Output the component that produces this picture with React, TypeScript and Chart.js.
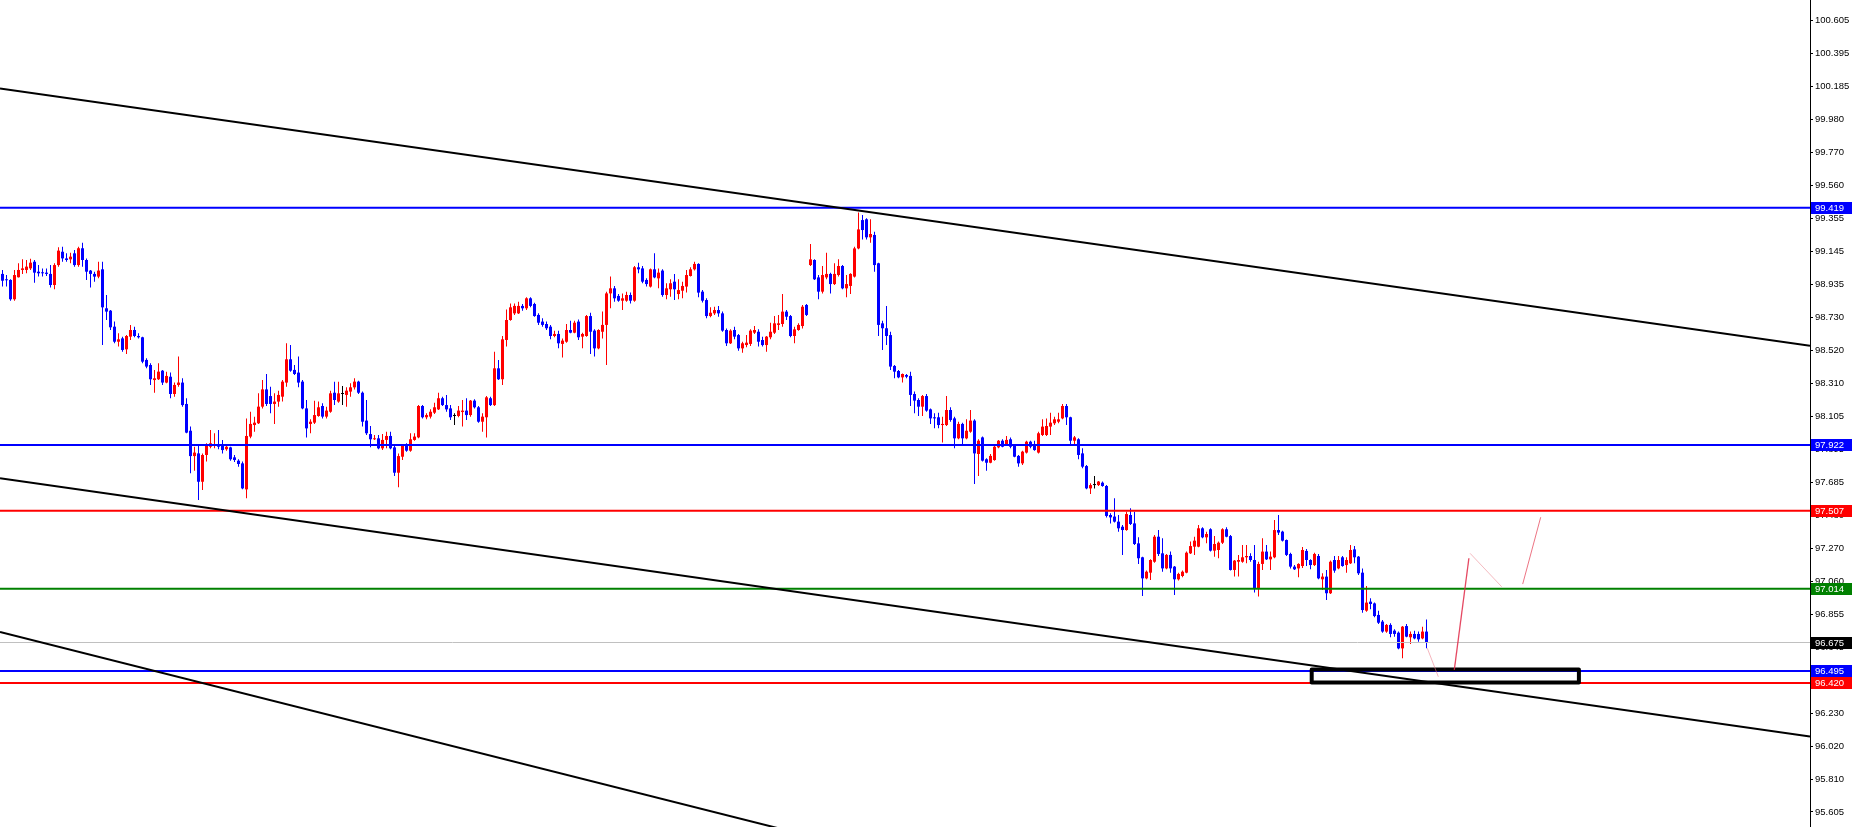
import React, { useEffect, useRef } from 'react';
import { Chart, registerables } from 'chart.js';

Chart.register(...registerables);

// ---- candle data (H1-style OHLC, oldest first) ----
const opens = [
  99.002, 98.968, 98.964, 98.842, 98.981, 99.027, 99.027, 99.037, 99.079, 99.016,
  99.010, 99.010, 99.002, 98.932, 99.058, 99.142, 99.100, 99.094, 99.132, 99.058,
  99.164, 99.090, 99.023, 99.002, 98.985, 99.031, 98.785, 98.770, 98.669, 98.574,
  98.595, 98.526, 98.606, 98.648, 98.610, 98.602, 98.459, 98.427, 98.332, 98.337,
  98.391, 98.316, 98.353, 98.244, 98.301, 98.316, 98.181, 98.012, 97.852, 97.869,
  97.690, 97.859, 97.911, 97.920, 97.928, 97.922, 97.895, 97.907, 97.844, 97.823,
  97.806, 97.642, 97.975, 98.048, 98.059, 98.164, 98.273, 98.231, 98.181, 98.196,
  98.227, 98.316, 98.463, 98.396, 98.379, 98.322, 98.153, 98.055, 98.063, 98.105,
  98.168, 98.101, 98.132, 98.252, 98.196, 98.244, 98.238, 98.259, 98.286, 98.322,
  98.252, 98.076, 97.991, 97.958, 97.964, 97.901, 97.954, 97.979, 97.907, 97.747,
  97.848, 97.922, 97.886, 97.954, 97.970, 98.168, 98.097, 98.101, 98.126, 98.147,
  98.217, 98.174, 98.153, 98.105, 98.105, 98.130, 98.139, 98.111, 98.202, 98.160,
  98.069, 98.097, 98.217, 98.174, 98.406, 98.337, 98.585, 98.711, 98.753, 98.753,
  98.800, 98.785, 98.848, 98.812, 98.743, 98.701, 98.686, 98.669, 98.610, 98.623,
  98.560, 98.574, 98.648, 98.631, 98.701, 98.606, 98.610, 98.736, 98.644, 98.532,
  98.637, 98.680, 98.879, 98.911, 98.863, 98.833, 98.833, 98.869, 98.833, 99.044,
  99.037, 98.964, 98.922, 99.031, 98.974, 99.023, 98.869, 98.905, 98.953, 98.875,
  98.896, 98.922, 98.989, 99.031, 99.065, 98.890, 98.837, 98.736, 98.753, 98.774,
  98.753, 98.648, 98.564, 98.648, 98.616, 98.532, 98.553, 98.560, 98.631, 98.637,
  98.585, 98.553, 98.602, 98.631, 98.680, 98.686, 98.764, 98.736, 98.610, 98.648,
  98.673, 98.806, 99.058, 99.090, 98.980, 98.890, 98.980, 99.002, 98.938, 98.995,
  99.052, 98.911, 98.926, 98.985, 99.163, 99.342, 99.347, 99.233, 99.248, 99.069,
  98.690, 98.659, 98.616, 98.421, 98.389, 98.349, 98.364, 98.358, 98.244, 98.206,
  98.164, 98.231, 98.147, 98.097, 98.097, 98.048, 98.048, 98.143, 98.090, 97.964,
  98.055, 97.964, 98.006, 98.076, 97.865, 97.970, 97.832, 97.810, 97.827, 97.907,
  97.949, 97.928, 97.958, 97.922, 97.853, 97.806, 97.874, 97.943, 97.922, 97.874,
  97.985, 97.985, 98.038, 98.059, 98.069, 98.090, 98.168, 98.097, 97.949, 97.958,
  97.869, 97.789, 97.648, 97.669, 97.669, 97.684, 97.663, 97.480, 97.470, 97.438,
  97.406, 97.385, 97.480, 97.427, 97.301, 97.213, 97.080, 97.116, 97.185, 97.343,
  97.238, 97.143, 97.228, 97.154, 97.074, 97.095, 97.116, 97.238, 97.280, 97.280,
  97.396, 97.339, 97.390, 97.255, 97.259, 97.305, 97.390, 97.347, 97.133, 97.185,
  97.185, 97.213, 97.221, 97.196, 97.017, 97.171, 97.249, 97.200, 97.213, 97.385,
  97.375, 97.322, 97.234, 97.154, 97.143, 97.158, 97.253, 97.196, 97.164, 97.221,
  97.074, 97.091, 96.986, 97.196, 97.143, 97.213, 97.164, 97.175, 97.263, 97.217,
  97.116, 96.876, 96.933, 96.922, 96.849, 96.807, 96.744, 96.786, 96.750, 96.737,
  96.638, 96.779, 96.708, 96.729, 96.729, 96.701, 96.744,
];

const highs = [
  99.027, 98.995, 98.968, 99.027, 99.069, 99.094, 99.090, 99.098, 99.090, 99.058,
  99.037, 99.037, 99.058, 99.069, 99.170, 99.174, 99.132, 99.136, 99.153, 99.174,
  99.199, 99.100, 99.027, 99.016, 99.079, 99.079, 98.869, 98.774, 98.701, 98.627,
  98.606, 98.616, 98.680, 98.669, 98.627, 98.606, 98.469, 98.438, 98.396, 98.438,
  98.396, 98.385, 98.379, 98.316, 98.480, 98.343, 98.217, 98.038, 97.911, 97.922,
  97.869, 97.933, 98.017, 97.996, 98.017, 97.954, 97.922, 97.911, 97.859, 97.832,
  97.817, 98.090, 98.132, 98.101, 98.248, 98.332, 98.370, 98.290, 98.248, 98.265,
  98.332, 98.564, 98.553, 98.427, 98.480, 98.332, 98.206, 98.084, 98.202, 98.196,
  98.185, 98.164, 98.265, 98.322, 98.322, 98.294, 98.286, 98.311, 98.343, 98.328,
  98.259, 98.206, 98.042, 97.985, 97.985, 97.991, 98.006, 98.006, 97.916, 97.869,
  97.928, 97.933, 97.996, 97.996, 98.174, 98.174, 98.122, 98.147, 98.189, 98.252,
  98.227, 98.238, 98.174, 98.122, 98.168, 98.206, 98.217, 98.206, 98.210, 98.168,
  98.122, 98.231, 98.227, 98.511, 98.459, 98.610, 98.778, 98.816, 98.816, 98.827,
  98.812, 98.854, 98.854, 98.820, 98.753, 98.722, 98.701, 98.680, 98.644, 98.644,
  98.595, 98.686, 98.707, 98.707, 98.715, 98.631, 98.743, 98.757, 98.652, 98.652,
  98.764, 98.890, 98.985, 98.926, 98.875, 98.879, 98.890, 98.884, 99.052, 99.073,
  99.052, 98.974, 99.037, 99.132, 99.037, 99.031, 98.943, 98.968, 99.002, 98.968,
  98.953, 99.027, 99.044, 99.079, 99.069, 98.900, 98.848, 98.791, 98.795, 98.799,
  98.764, 98.658, 98.652, 98.669, 98.623, 98.574, 98.616, 98.652, 98.673, 98.652,
  98.606, 98.610, 98.694, 98.736, 98.743, 98.875, 98.774, 98.743, 98.669, 98.690,
  98.806, 98.812, 99.191, 99.094, 98.995, 99.052, 99.136, 99.010, 99.069, 99.094,
  99.058, 98.995, 99.006, 99.174, 99.389, 99.374, 99.353, 99.347, 99.269, 99.073,
  98.707, 98.800, 98.637, 98.427, 98.395, 98.374, 98.370, 98.385, 98.259, 98.217,
  98.238, 98.244, 98.153, 98.122, 98.126, 98.101, 98.231, 98.160, 98.101, 98.069,
  98.063, 98.084, 98.143, 98.084, 97.958, 97.975, 97.838, 97.865, 97.916, 97.954,
  97.958, 97.979, 97.970, 97.928, 97.859, 97.886, 97.949, 97.949, 97.949, 98.006,
  98.084, 98.090, 98.126, 98.101, 98.126, 98.181, 98.181, 98.101, 97.979, 97.964,
  97.901, 97.796, 97.680, 97.726, 97.695, 97.691, 97.669, 97.491, 97.585, 97.480,
  97.417, 97.501, 97.522, 97.501, 97.339, 97.217, 97.129, 97.200, 97.354, 97.385,
  97.333, 97.234, 97.249, 97.158, 97.116, 97.129, 97.249, 97.312, 97.343, 97.417,
  97.402, 97.375, 97.396, 97.348, 97.312, 97.396, 97.402, 97.354, 97.196, 97.228,
  97.291, 97.291, 97.238, 97.291, 97.185, 97.333, 97.291, 97.249, 97.449, 97.480,
  97.381, 97.326, 97.242, 97.164, 97.175, 97.278, 97.265, 97.200, 97.242, 97.234,
  97.112, 97.133, 97.192, 97.221, 97.221, 97.221, 97.213, 97.291, 97.284, 97.221,
  97.143, 97.032, 96.954, 96.927, 96.876, 96.817, 96.792, 96.796, 96.758, 96.744,
  96.779, 96.792, 96.744, 96.750, 96.744, 96.775, 96.821,
];

const lows = [
  98.922, 98.922, 98.833, 98.833, 98.979, 99.002, 99.006, 99.027, 98.947, 98.985,
  98.985, 98.989, 98.917, 98.905, 99.048, 99.079, 99.079, 99.069, 99.048, 99.048,
  99.048, 98.964, 98.917, 98.953, 98.974, 98.553, 98.711, 98.648, 98.564, 98.543,
  98.511, 98.497, 98.585, 98.602, 98.595, 98.438, 98.406, 98.301, 98.252, 98.332,
  98.301, 98.311, 98.217, 98.227, 98.290, 98.164, 97.996, 97.743, 97.760, 97.575,
  97.638, 97.817, 97.901, 97.901, 97.895, 97.869, 97.886, 97.823, 97.815, 97.785,
  97.642, 97.585, 97.964, 98.006, 98.055, 98.153, 98.168, 98.122, 98.055, 98.164,
  98.196, 98.290, 98.385, 98.364, 98.286, 98.147, 97.970, 97.996, 98.055, 98.101,
  98.090, 98.090, 98.126, 98.174, 98.189, 98.174, 98.164, 98.227, 98.273, 98.244,
  98.038, 97.985, 97.907, 97.954, 97.895, 97.890, 97.901, 97.895, 97.726, 97.655,
  97.827, 97.880, 97.880, 97.949, 97.964, 98.090, 98.084, 98.090, 98.118, 98.143,
  98.168, 98.132, 98.080, 98.048, 98.097, 98.038, 98.080, 98.101, 98.153, 98.063,
  98.006, 97.970, 98.168, 98.168, 98.332, 98.301, 98.543, 98.707, 98.743, 98.749,
  98.770, 98.774, 98.791, 98.732, 98.680, 98.669, 98.648, 98.589, 98.602, 98.532,
  98.475, 98.568, 98.627, 98.627, 98.585, 98.532, 98.606, 98.497, 98.480, 98.526,
  98.595, 98.427, 98.785, 98.827, 98.827, 98.774, 98.827, 98.816, 98.827, 99.006,
  98.943, 98.922, 98.917, 98.974, 98.911, 98.858, 98.842, 98.858, 98.837, 98.842,
  98.848, 98.884, 98.985, 99.023, 98.854, 98.821, 98.722, 98.728, 98.743, 98.732,
  98.637, 98.547, 98.560, 98.589, 98.517, 98.505, 98.539, 98.547, 98.623, 98.543,
  98.543, 98.511, 98.589, 98.623, 98.648, 98.669, 98.711, 98.602, 98.564, 98.644,
  98.658, 98.736, 99.052, 98.964, 98.842, 98.879, 98.968, 98.879, 98.932, 98.985,
  98.905, 98.854, 98.875, 98.980, 99.157, 99.220, 99.220, 99.199, 99.016, 98.610,
  98.522, 98.553, 98.395, 98.343, 98.343, 98.316, 98.343, 98.168, 98.122, 98.105,
  98.105, 98.132, 98.055, 98.027, 98.027, 97.937, 98.042, 98.069, 97.901, 97.958,
  97.916, 97.958, 98.000, 97.676, 97.726, 97.817, 97.760, 97.806, 97.823, 97.901,
  97.907, 97.916, 97.901, 97.844, 97.785, 97.796, 97.869, 97.901, 97.886, 97.869,
  97.979, 97.979, 97.985, 98.048, 98.059, 98.084, 98.048, 97.922, 97.922, 97.832,
  97.775, 97.642, 97.613, 97.648, 97.663, 97.659, 97.465, 97.427, 97.432, 97.375,
  97.228, 97.381, 97.417, 97.291, 97.171, 96.969, 97.074, 97.070, 97.179, 97.221,
  97.122, 97.137, 97.116, 96.975, 97.066, 97.087, 97.112, 97.234, 97.228, 97.276,
  97.333, 97.301, 97.249, 97.217, 97.207, 97.297, 97.339, 97.129, 97.091, 97.091,
  97.179, 97.175, 97.185, 96.990, 96.965, 97.133, 97.196, 97.133, 97.207, 97.354,
  97.312, 97.221, 97.143, 97.133, 97.087, 97.146, 97.158, 97.137, 97.158, 97.074,
  97.007, 96.943, 96.981, 97.116, 97.137, 97.154, 97.116, 97.171, 97.175, 97.101,
  96.863, 96.870, 96.885, 96.834, 96.792, 96.737, 96.737, 96.708, 96.712, 96.632,
  96.575, 96.708, 96.666, 96.695, 96.680, 96.695, 96.638,
];

const closes = [
  98.959, 98.962, 98.842, 98.995, 99.027, 99.037, 99.048, 99.073, 99.010, 99.006,
  99.006, 99.002, 98.932, 99.058, 99.149, 99.100, 99.090, 99.111, 99.058, 99.164,
  99.090, 99.016, 99.002, 98.985, 99.023, 98.791, 98.764, 98.665, 98.574, 98.589,
  98.522, 98.610, 98.648, 98.610, 98.602, 98.448, 98.417, 98.337, 98.343, 98.385,
  98.316, 98.358, 98.244, 98.301, 98.316, 98.174, 98.000, 97.852, 97.874, 97.690,
  97.859, 97.916, 97.933, 97.928, 97.911, 97.890, 97.911, 97.832, 97.827, 97.802,
  97.648, 97.979, 98.055, 98.063, 98.164, 98.273, 98.181, 98.181, 98.196, 98.238,
  98.322, 98.463, 98.391, 98.370, 98.316, 98.153, 98.027, 98.069, 98.111, 98.160,
  98.101, 98.139, 98.248, 98.206, 98.248, 98.244, 98.265, 98.286, 98.322, 98.252,
  98.069, 97.996, 97.958, 97.964, 97.901, 97.954, 97.979, 97.901, 97.747, 97.852,
  97.922, 97.886, 97.958, 97.975, 98.168, 98.097, 98.111, 98.132, 98.160, 98.217,
  98.174, 98.147, 98.097, 98.105, 98.139, 98.139, 98.111, 98.202, 98.160, 98.069,
  98.101, 98.223, 98.174, 98.406, 98.337, 98.589, 98.711, 98.791, 98.800, 98.800,
  98.785, 98.848, 98.800, 98.736, 98.694, 98.680, 98.659, 98.610, 98.623, 98.564,
  98.581, 98.648, 98.631, 98.694, 98.602, 98.623, 98.736, 98.637, 98.532, 98.648,
  98.680, 98.879, 98.911, 98.848, 98.833, 98.848, 98.869, 98.833, 99.044, 99.031,
  98.953, 98.938, 99.031, 98.980, 99.010, 98.869, 98.911, 98.943, 98.905, 98.900,
  98.926, 98.995, 99.031, 99.065, 98.884, 98.833, 98.736, 98.757, 98.774, 98.753,
  98.644, 98.564, 98.644, 98.606, 98.532, 98.564, 98.568, 98.644, 98.648, 98.574,
  98.553, 98.606, 98.637, 98.690, 98.690, 98.764, 98.732, 98.610, 98.652, 98.680,
  98.795, 98.743, 99.094, 98.968, 98.890, 98.995, 99.002, 98.938, 99.002, 99.052,
  98.911, 98.938, 99.002, 99.163, 99.283, 99.279, 99.233, 99.254, 99.058, 98.680,
  98.659, 98.610, 98.417, 98.385, 98.349, 98.370, 98.353, 98.238, 98.202, 98.164,
  98.231, 98.139, 98.090, 98.090, 98.048, 98.055, 98.143, 98.080, 97.964, 98.055,
  97.964, 98.012, 98.076, 97.869, 97.949, 97.823, 97.810, 97.853, 97.911, 97.949,
  97.911, 97.954, 97.911, 97.848, 97.806, 97.880, 97.943, 97.911, 97.890, 97.996,
  98.038, 98.042, 98.063, 98.084, 98.084, 98.168, 98.097, 97.949, 97.970, 97.859,
  97.785, 97.648, 97.669, 97.669, 97.691, 97.663, 97.474, 97.465, 97.438, 97.396,
  97.385, 97.486, 97.423, 97.297, 97.207, 97.080, 97.122, 97.196, 97.343, 97.234,
  97.143, 97.228, 97.143, 97.074, 97.108, 97.122, 97.242, 97.284, 97.318, 97.396,
  97.339, 97.360, 97.255, 97.297, 97.305, 97.390, 97.343, 97.133, 97.192, 97.196,
  97.213, 97.221, 97.196, 97.017, 97.171, 97.249, 97.200, 97.217, 97.385, 97.369,
  97.318, 97.228, 97.154, 97.137, 97.171, 97.259, 97.196, 97.164, 97.234, 97.080,
  97.091, 96.986, 97.185, 97.129, 97.196, 97.158, 97.196, 97.259, 97.213, 97.112,
  96.880, 96.927, 96.918, 96.842, 96.800, 96.744, 96.786, 96.729, 96.729, 96.638,
  96.775, 96.712, 96.729, 96.701, 96.695, 96.744, 96.675,
];

// ---- price axis ----
const yTickValues = [
  100.605, 100.395, 100.185, 99.98, 99.77, 99.56, 99.355, 99.145, 98.935, 98.73,
  98.52, 98.31, 98.105, 97.895, 97.685, 97.48, 97.27, 97.06, 96.855, 96.645,
  96.44, 96.23, 96.02, 95.81, 95.605,
];
const priceMin = 95.5103;
const priceMax = 100.7313;
const barMin = -0.625;
const barMax = 451.875;

// ---- horizontal levels ----
const levelValues = [99.419, 97.922, 97.507, 97.014, 96.675, 96.495, 96.42];
const levelLineColors = ['#0000FF', '#0000FF', '#FF0000', '#008000', '#C0C0C0', '#0000FF', '#FF0000'];
const levelLabelColors = ['#0000FF', '#0000FF', '#FF0000', '#008000', '#000000', '#0000FF', '#FF0000'];
const levelLineWidths = [2, 2, 2, 2, 1, 2, 2];

// ---- trend lines (bar index, price) ----
const trendUpper = [{ x: -0.625, y: 100.172 }, { x: 451.875, y: 98.549 }];
const trendMiddle = [{ x: -0.625, y: 97.712 }, { x: 451.875, y: 96.082 }];
const trendLower = [{ x: -0.625, y: 96.741 }, { x: 200, y: 95.464 }];

// ---- support box ----
const boxPath = [
  { x: 327.3, y: 96.505 }, { x: 394.1, y: 96.505 }, { x: 394.1, y: 96.423 },
  { x: 327.3, y: 96.423 }, { x: 327.3, y: 96.505 },
];

// ---- forecast path segments ----
const forecastA = [{ x: 356.2, y: 96.639 }, { x: 358.95, y: 96.459 }];
const forecastB = [{ x: 362.95, y: 96.502 }, { x: 366.6, y: 97.207 }];
const forecastC = [{ x: 366.9, y: 97.238 }, { x: 374.8, y: 97.027 }];
const forecastD = [{ x: 380.05, y: 97.044 }, { x: 384.55, y: 97.466 }];

const UP = '#FF0000';
const DOWN = '#0000FF';
const DOJI = '#000000';
const FONT = "'Liberation Sans', Arial, sans-serif";

function lineDs(data: { x: number; y: number }[], color: string, width: number, order = 0, extra: any = {}) {
  return {
    type: 'line' as const,
    data,
    borderColor: color,
    borderWidth: width,
    pointRadius: 0,
    pointHoverRadius: 0,
    fill: false,
    tension: 0,
    order,
    ...extra,
  };
}

const levelLabelPlugin = {
  id: 'levelLabels',
  afterDraw(chart: any) {
    const { ctx, chartArea, scales } = chart;
    const y = scales.y;
    ctx.save();
    ctx.font = `9.5px ${FONT}`;
    ctx.textBaseline = 'middle';
    ctx.textAlign = 'left';
    levelValues.forEach((v, k) => {
      const py = Math.round(y.getPixelForValue(v));
      ctx.fillStyle = levelLabelColors[k];
      ctx.fillRect(chartArea.right + 1, py - 6, chart.width - chartArea.right - 1, 12);
      ctx.fillStyle = '#FFFFFF';
      ctx.fillText(v.toFixed(3), chartArea.right + 5, py + 0.5);
    });
    ctx.restore();
  },
};

export default function App() {
  const canvasRef = useRef<HTMLCanvasElement>(null);

  useEffect(() => {
    const colors = opens.map((o, i) => (closes[i] > o ? UP : closes[i] < o ? DOWN : DOJI));
    const bodies = opens.map((o, i) => ({ x: i, y: [o, closes[i]] }));
    const wicks = lows.map((l, i) => ({ x: i, y: [l, highs[i]] }));

    const levelSets = levelValues.map((v, k) =>
      lineDs([{ x: barMin, y: v }, { x: barMax, y: v }], levelLineColors[k], levelLineWidths[k], 2)
    );

    const chart = new Chart(canvasRef.current as HTMLCanvasElement, {
      type: 'bar',
      data: {
        datasets: [
          lineDs(forecastA, 'rgba(235,120,135,0.55)', 1, 0),
          lineDs(forecastB, 'rgba(225,40,70,0.85)', 1.3, 0),
          lineDs(forecastC, 'rgba(235,130,140,0.55)', 1, 0),
          lineDs(forecastD, 'rgba(230,70,90,0.75)', 1, 0),
          lineDs(boxPath, '#000000', 4, 0, { borderJoinStyle: 'round', borderCapStyle: 'round' }),
          lineDs(trendUpper, '#000000', 2, 1),
          lineDs(trendMiddle, '#000000', 2, 1),
          lineDs(trendLower, '#000000', 2, 1),
          ...levelSets,
          {
            type: 'bar' as const,
            data: bodies as any,
            backgroundColor: colors,
            borderWidth: 0,
            barThickness: 3,
            minBarLength: 1,
            inflateAmount: 0,
            grouped: false,
            order: 10,
          },
          {
            type: 'bar' as const,
            data: wicks as any,
            backgroundColor: colors,
            borderWidth: 0,
            barThickness: 1,
            inflateAmount: 0,
            grouped: false,
            order: 11,
          },
        ] as any,
      },
      options: {
        animation: false,
        responsive: true,
        maintainAspectRatio: false,
        events: [],
        layout: { padding: 0 },
        plugins: {
          legend: { display: false },
          tooltip: { enabled: false },
          title: { display: false },
        },
        scales: {
          x: {
            type: 'linear',
            min: barMin,
            max: barMax,
            display: false,
            offset: false,
            grid: { display: false },
          },
          y: {
            type: 'linear',
            position: 'right',
            min: priceMin,
            max: priceMax,
            beginAtZero: false,
            grid: {
              drawOnChartArea: false,
              drawTicks: true,
              tickLength: 3,
              color: '#000000',
            },
            border: { display: true, color: '#000000', width: 1 },
            ticks: {
              autoSkip: false,
              padding: 2,
              color: '#000000',
              font: { family: FONT, size: 9.5 },
              callback: (v: any) => Number(v).toFixed(3),
            },
            afterBuildTicks: (scale: any) => {
              scale.ticks = yTickValues.map((v) => ({ value: v }));
            },
            afterFit: (scale: any) => {
              scale.width = 42;
              scale.paddingTop = 0;
              scale.paddingBottom = 0;
            },
          },
        },
      } as any,
      plugins: [levelLabelPlugin],
    });

    return () => chart.destroy();
  }, []);

  return (
    <div style={{ position: 'absolute', left: 0, top: 0, width: 1852, height: 827, background: '#FFFFFF' }}>
      <canvas ref={canvasRef} />
    </div>
  );
}
